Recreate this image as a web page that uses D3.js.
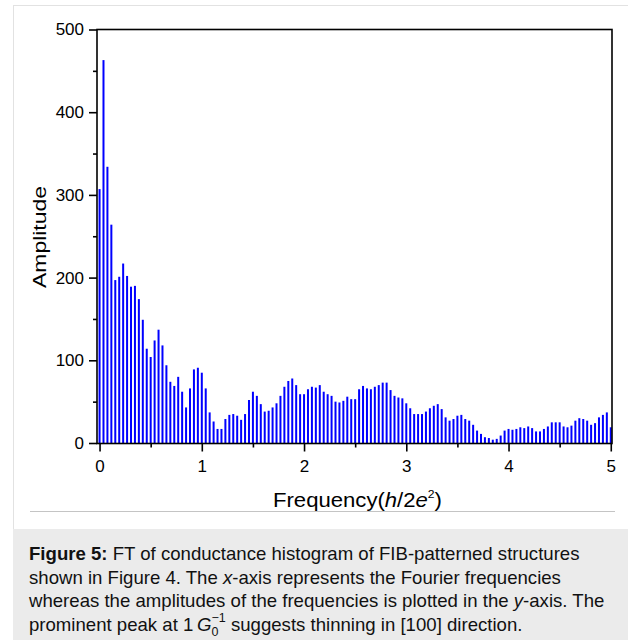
<!DOCTYPE html>
<html>
<head>
<meta charset="utf-8">
<script src="https://cdn.jsdelivr.net/npm/d3@7"></script>
<style>
  body { margin: 0; background: #fff; }
  svg { display: block; font-family: "Liberation Sans", Arial, sans-serif; }
</style>
</head>
<body>
<div id="holder"></div>
<script>
var width = 628;
var height = 640;

// FT amplitudes, one per frequency bin (bins are 5/130 apart, from 0 to 5)
var fStep = 5 / 130;
var amplitude = [
  307, 463, 334, 264, 197, 201, 217, 202, 189, 190,
  174, 149, 114, 104, 124, 137, 118, 94, 74, 69,
  80, 62, 43, 66, 89, 91, 85, 66, 37, 26,
  17, 17, 29, 34, 35, 33, 28, 35, 52, 62,
  57, 47, 38, 39, 43, 48, 57, 68, 75, 78,
  70, 59, 59, 65, 68, 67, 70, 62, 59, 57,
  50, 49, 51, 56, 53, 53, 65, 69, 66, 65,
  68, 70, 73, 73, 64, 57, 55, 54, 48, 42,
  35, 35, 35, 38, 42, 45, 47, 41, 31, 27,
  29, 33, 34, 29, 27, 22, 15, 11, 7, 6,
  4, 5, 9, 15, 17, 16, 17, 19, 18, 20,
  18, 14, 14, 17, 20, 25, 25, 25, 20, 19,
  21, 27, 30, 29, 27, 22, 24, 31, 34, 37,
  19
];
var xTicks = [0, 1, 2, 3, 4, 5];
var xMinor = [0.5, 1.5, 2.5, 3.5, 4.5];
var yTicks = [0, 100, 200, 300, 400, 500];
var yMinor = [50, 150, 250, 350, 450];

var captionLines = [
  [{t: "Figure 5:", b: true}, {t: " FT of conductance histogram of FIB-patterned structures"}],
  [{t: "shown in Figure 4. The "}, {t: "x", i: true}, {t: "-axis represents the Fourier frequencies"}],
  [{t: "whereas the amplitudes of the frequencies is plotted in the "}, {t: "y", i: true}, {t: "-axis. The"}],
  [{t: "prominent peak at 1\u2009"}, {t: "G", i: true}, {t: "0", sub: true}, {t: "\u22121", sup: true}, {t: " suggests thinning in [100] direction."}]
];

var plotL = 97, plotR = 612, plotT = 29.5, plotB = 443.5;

var svg = d3.select("#holder").append("svg")
  .attr("width", width)
  .attr("height", height);

// outer card
svg.append("rect")
  .attr("x", 13.5).attr("y", 5.5)
  .attr("width", width).attr("height", height)
  .attr("fill", "#fff")
  .attr("stroke", "#e2e2e2");
svg.append("rect")
  .attr("x", 13).attr("y", 529)
  .attr("width", width - 13).attr("height", height - 529)
  .attr("fill", "#ebebeb");
svg.append("line")
  .attr("x1", 30).attr("x2", 615)
  .attr("y1", 511.5).attr("y2", 511.5)
  .attr("stroke", "#c4c4c4");

var x = d3.scaleLinear().domain([-0.025, 5.012]).range([plotL, plotR]);
var y = d3.scaleLinear().domain([0, 500]).range([plotB - 0.5, plotT]);

var bins = amplitude.map((a, i) => ({f: i * fStep, a: a}));

svg.append("g")
  .selectAll("rect")
  .data(bins)
  .enter().append("rect")
    .attr("x", d => x(d.f) - 1)
    .attr("width", 2)
    .attr("y", d => y(d.a))
    .attr("height", d => y(0) - y(d.a))
    .attr("fill", "#0000ff");

// frame
svg.append("rect")
  .attr("x", plotL).attr("y", plotT)
  .attr("width", plotR - plotL).attr("height", plotB - plotT)
  .attr("fill", "none")
  .attr("stroke", "#000")
  .attr("stroke-width", 1.6);

// x axis
var xAxis = svg.append("g").attr("transform", "translate(0," + plotB + ")");
xAxis.call(d3.axisBottom(x).tickValues(xTicks).tickSize(8).tickPadding(8).tickFormat(d3.format("d")));
xAxis.append("g").call(d3.axisBottom(x).tickValues(xMinor).tickSize(4).tickFormat(""));
xAxis.selectAll(".domain").remove();
xAxis.selectAll("line").attr("stroke-width", 1.6);
xAxis.selectAll("text").attr("font-size", 17).attr("fill", "#000")
  .attr("font-family", "Liberation Sans, Arial, sans-serif");

// y axis
var yAxis = svg.append("g").attr("transform", "translate(" + plotL + ",0)");
yAxis.call(d3.axisLeft(y).tickValues(yTicks).tickSize(8).tickPadding(5));
yAxis.append("g").call(d3.axisLeft(y).tickValues(yMinor).tickSize(4).tickFormat(""));
yAxis.selectAll(".domain").remove();
yAxis.selectAll("line").attr("stroke-width", 1.6);
yAxis.selectAll("text").attr("font-size", 17).attr("fill", "#000")
  .attr("font-family", "Liberation Sans, Arial, sans-serif");

// axis titles
var xt = svg.append("text")
  .attr("x", 273).attr("y", 506.5)
  .attr("font-size", 20)
  .attr("textLength", 169)
  .attr("lengthAdjust", "spacingAndGlyphs");
xt.append("tspan").text("Frequency(");
xt.append("tspan").attr("font-style", "italic").text("h");
xt.append("tspan").text("/2");
xt.append("tspan").attr("font-style", "italic").text("e");
xt.append("tspan").attr("font-size", 11).attr("dy", -9).text("2");
xt.append("tspan").attr("dy", 9).text(")");

svg.append("text")
  .attr("transform", "translate(46,237) rotate(-90)")
  .attr("text-anchor", "middle")
  .attr("font-size", 19)
  .attr("textLength", 102)
  .attr("lengthAdjust", "spacingAndGlyphs")
  .text("Amplitude");

// caption
captionLines.forEach(function(line, li) {
  var t = svg.append("text")
    .attr("x", 29)
    .attr("y", 560 + li * 23.5)
    .attr("font-size", 18.6)
    .attr("fill", "#111");
  var afterSup = false;
  line.forEach(function(p) {
    var s = t.append("tspan").text(p.t);
    if (p.b) s.attr("font-weight", "bold");
    if (p.i) s.attr("font-style", "italic");
    if (p.sub) s.attr("font-size", 12.5).attr("dy", 5);
    if (p.sup) s.attr("font-size", 12.5).attr("dy", -14).attr("dx", -7);
    if (afterSup) s.attr("dy", 9);
    afterSup = !!p.sup;
  });
});
</script>
</body>
</html>
